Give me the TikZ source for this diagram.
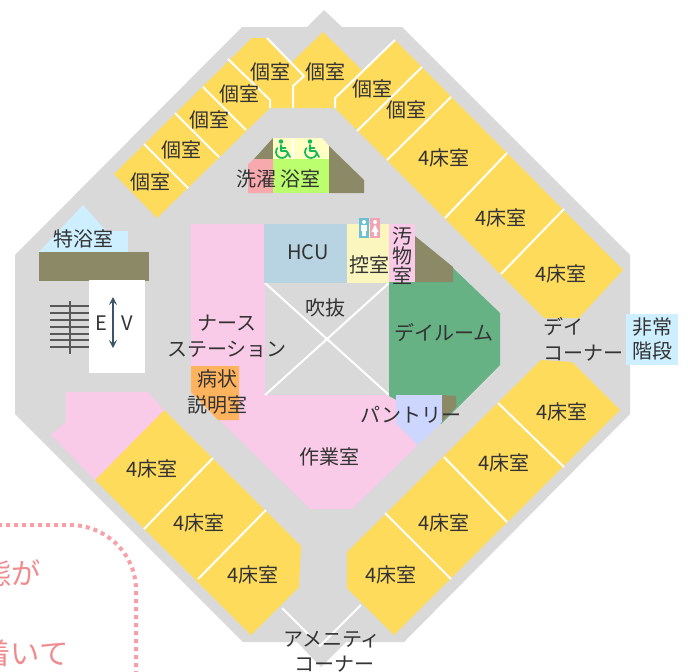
\documentclass[tikz,border=0pt]{standalone}
\usepackage{fontspec}
\setmainfont{Noto Sans CJK JP}
\usetikzlibrary{arrows.meta}
\definecolor{wallgray}{HTML}{D9D9D9}
\definecolor{roomyellow}{HTML}{FFDB5C}
\definecolor{nursepink}{HTML}{F9CBE8}
\definecolor{dayroom}{HTML}{66B285}
\definecolor{olive}{HTML}{8B8966}
\definecolor{pantryblue}{HTML}{CCD6FF}
\definecolor{orangeroom}{HTML}{FFB35C}
\definecolor{salmon}{HTML}{F8A9AD}
\definecolor{lime}{HTML}{BBFF6E}
\definecolor{paleyellow}{HTML}{FFFFC4}
\definecolor{ctrlyellow}{HTML}{FAF6BE}
\definecolor{hcublue}{HTML}{B8D4E2}
\definecolor{skyblue}{HTML}{CDEFFF}
\definecolor{txt}{HTML}{333333}
\definecolor{notepink}{HTML}{F08C90}
\definecolor{dotpink}{HTML}{F8A0A8}
\definecolor{wheelgreen}{HTML}{12B85A}
\definecolor{mantoilet}{HTML}{6CC0D4}
\definecolor{ladytoilet}{HTML}{F2A3B5}
\definecolor{evblue}{HTML}{3D5468}
\tikzset{
  lbl/.style={inner sep=0pt,font=\fontsize{15}{17}\selectfont,text=txt,text height=12.2pt,text depth=0pt},
  note/.style={inner sep=0pt,font=\fontsize{22}{25}\selectfont,text=notepink,anchor=east,text height=18pt,text depth=0pt},
  wall/.style={draw=white,line width=1.5pt},
  thin wall/.style={draw=white,line width=1.2pt},
  stairline/.style={draw=black!65,line width=1.1pt},
  wheel/.style={draw=wheelgreen,line width=1.3pt,line cap=round,line join=round}
}
\newcommand{\wheelicon}[2]{%
  \fill[wheelgreen] (#1,#2-8.5) circle (2.2);
  \draw[wheel] (#1,#2-5) -- (#1,#2+1) -- (#1+5.5,#2+1) -- (#1+9,#2+7);
  \draw[wheel] (#1,#2-2) -- (#1+4.5,#2-2);
  \draw[wheel] (#1-3.6,#2-1.9) arc[start angle=220,end angle=10,radius=6];
}
\begin{document}
\begin{tikzpicture}[x=0.75pt,y=-0.75pt]
\useasboundingbox (0,0) rectangle (688,671);
\clip (0,0) rectangle (688,671);
% building
\fill[wallgray] (324,10) -- (342,27) -- (402,27) -- (630,255) -- (630,414) -- (404,642) -- (346,642) -- (321,667) -- (297,642) -- (243,642) -- (15,414) -- (15,255) -- (242,27) -- (307,27) -- cycle;
% yellow rooms
\fill[roomyellow] (252,38) -- (267,38) -- (304,76) -- (293,86) -- (293,108) -- (270,108) -- (157,218) -- (114,174) -- cycle;
\fill[roomyellow] (323,32) -- (362,70) -- (335,98) -- (335,108) -- (293,108) -- (293,86) -- (304,76) -- (292,62) -- cycle;
\fill[roomyellow] (335,98) -- (395,40) -- (623,270) -- (579,318) -- (544,318) -- (335,108) -- cycle;
\fill[roomyellow] (541,360) -- (572,362) -- (620,410) -- (394,635) -- (347,588) -- (347,552) -- cycle;
\fill[roomyellow] (164,410) -- (301,546) -- (299,587) -- (251,635) -- (95,480) -- cycle;
% white room walls
\draw[wall] (267,38) -- (304,76) -- (293,86) -- (293,108);
\draw[wall] (228,59) -- (270,100) -- (270,108);
\draw[wall] (203,87) -- (246,130);
\draw[wall] (175,113) -- (219,157);
\draw[wall] (144,144) -- (188,188);
\draw[wall] (335,108) -- (335,98) -- (395,40);
\draw[wall] (357,131) -- (422,67);
\draw[wall] (387,160) -- (451,97);
\draw[wall] (445,218) -- (507,153);
\draw[wall] (501,274) -- (564,209);
\draw[wall] (498,403) -- (564,467);
\draw[wall] (444,457) -- (507,522);
\draw[wall] (385,513) -- (451,579);
\draw[wall] (213,458) -- (144,529);
\draw[wall] (266,510) -- (198,579);
\draw[wall] (282,608) -- (320,646) -- (361,605);
% pink zones
\fill[nursepink] (66,392) -- (148,392) -- (164,410) -- (95,480) -- (51,435) -- (66,422) -- cycle;
\fill[nursepink] (191,224) -- (265,224) -- (265,395) -- (396,395) -- (396,423) -- (418,445) -- (352,509) -- (310,509) -- (191,392) -- cycle;
\fill[orangeroom] (191,366) -- (239,366) -- (239,420) -- (218,420) -- (191,392) -- cycle;
% void
\draw[wall] (265,283) -- (389,395);
\draw[wall] (389,283) -- (265,395);
% centre rooms
\fill[hcublue] (264,224) rectangle (347,283);
\fill[ctrlyellow] (347,224) rectangle (389,283);
\fill[nursepink] (389,224) rectangle (415,283);
\fill[dayroom] (389,282) -- (453,282) -- (453,268) -- (500,313) -- (500,365) -- (441,424) -- (389,396) -- cycle;
\fill[olive] (415,236) -- (453,267) -- (453,282) -- (415,282) -- cycle;
\fill[pantryblue] (396,395) -- (442,395) -- (442,422) -- (418,445) -- (396,423) -- cycle;
\fill[olive] (442,395) -- (456,396) -- (456,407) -- (442,422) -- cycle;
% bath block
\fill[olive] (254,159) -- (273,138) -- (273,159) -- cycle;
\fill[paleyellow] (273,138) -- (322,138) -- (329,146) -- (329,159) -- (273,159) -- cycle;
\draw[thin wall] (293,138) -- (293,159);
\fill[lime] (273,159) rectangle (329,193);
\fill[salmon] (248,164) -- (254,159) -- (273,159) -- (273,193) -- (248,193) -- cycle;
\fill[olive] (329,146) -- (364,180) -- (364,193) -- (329,193) -- cycle;
\wheelicon{281}{150}
\wheelicon{310}{150}
% toilets
\fill[mantoilet] (359,218) rectangle (369,238);
\fill[ladytoilet] (370,218) rectangle (380,238);
\fill[white] (364,222) circle (2);
\fill[white] (361,225) rectangle (367,231);
\fill[white] (362,231) rectangle (366,236);
\fill[white] (375,222) circle (2);
\fill[white] (375,224.5) -- (378.5,232) -- (371.5,232) -- cycle;
\fill[white] (373.5,232) rectangle (376.5,236);
% special bath, lift, stairs
\fill[skyblue] (83,205) -- (106,231) -- (128,231) -- (128,252) -- (39,252) -- cycle;
\fill[olive] (39,252) rectangle (149,281);
\fill[white] (89,280) rectangle (145,373);
\foreach \yy in {306,313,320,327,334,340,347}
  \draw[stairline] (50,\yy) -- (89,\yy);
\draw[stairline] (70,301) -- (70,354);
\coordinate (evtop) at (113,297);
\coordinate (evbot) at (113,348);
\draw[evblue,line width=1.4pt,{Stealth[length=6pt,width=6pt,inset=2.5pt]}-{Stealth[length=6pt,width=6pt,inset=2.5pt]}] (evtop) -- (evbot);
% stair box
\fill[skyblue] (626,314) rectangle (678,365);
% dotted note
\draw[dotpink,line width=3pt,dash pattern=on 3pt off 3pt] (-10,525) -- (70,525) .. controls (106,525) and (136,554) .. (136,590) -- (136,680);
\node[note] (noteA) at (41,572) {状態が};
\node[note] (noteB) at (69,652) {落ち着いて};
% labels
\node[lbl] (k1) at (270,71) {個室};
\node[lbl] (k2) at (325,71) {個室};
\node[lbl] (k3) at (239,93) {個室};
\node[lbl] (k4) at (209,119) {個室};
\node[lbl] (k5) at (181,149) {個室};
\node[lbl] (k6) at (150,181) {個室};
\node[lbl] (k7) at (372,88) {個室};
\node[lbl] (k8) at (406,109) {個室};
\node[lbl] (b1) at (444,157) {4床室};
\node[lbl] (b2) at (501,217) {4床室};
\node[lbl] (b3) at (561,273) {4床室};
\node[lbl] (b4) at (562,411) {4床室};
\node[lbl] (b5) at (504,462) {4床室};
\node[lbl] (b6) at (444,522) {4床室};
\node[lbl] (b7) at (391,574) {4床室};
\node[lbl] (b8) at (152,468) {4床室};
\node[lbl] (b9) at (199,522) {4床室};
\node[lbl] (b10) at (253,574) {4床室};
\node[lbl] (tokuyoku) at (83,238) {特浴室};
\node[lbl] (sentaku) at (256,178) {洗濯};
\node[lbl] (yokushitsu) at (300,178) {浴室};
\node[lbl] (hcu) at (308,251) {HCU};
\node[lbl] (fukinuke) at (325,307) {吹抜};
\node[lbl] (hikae) at (369,264) {控室};
\node[lbl] (o1) at (402,235) {汚};
\node[lbl] (o2) at (402,255) {物};
\node[lbl] (o3) at (402,275) {室};
\node[lbl] (ns1) at (227,322) {ナース};
\node[lbl] (ns2) at (227,348) {ステーション};
\node[lbl] (setsu1) at (217,378) {病状};
\node[lbl] (setsu2) at (217,404) {説明室};
\node[lbl] (sagyo) at (329,456) {作業室};
\node[lbl] (dayr) at (444,332) {デイルーム};
\node[lbl] (pantry) at (411,414) {パントリー};
\node[lbl] (day1) at (563,326) {デイ};
\node[lbl] (day2) at (583,352) {コーナー};
\node[lbl] (hijo1) at (652,326) {非常};
\node[lbl] (hijo2) at (652,350) {階段};
\node[lbl] (evE) at (101,322) {E};
\node[lbl] (evV) at (127,322) {V};
\node[lbl] (am1) at (332,638) {アメニティ};
\node[lbl] (am2) at (334,663) {コーナー};
\end{tikzpicture}
\end{document}
